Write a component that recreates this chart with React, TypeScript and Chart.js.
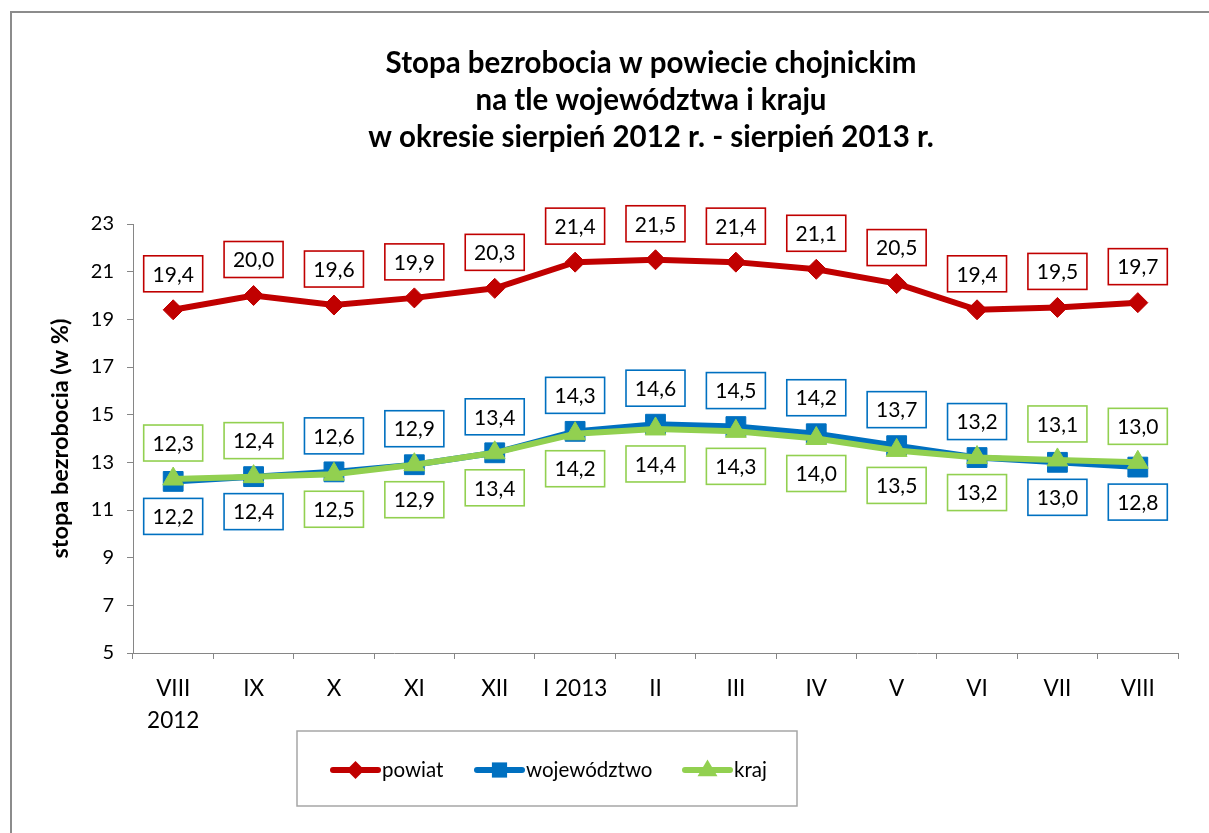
import React, { useEffect, useRef } from 'react';
import { Chart, registerables } from 'chart.js';

Chart.register(...registerables);

const categories: (string | string[])[] = [['VIII', '2012'], 'IX', 'X', 'XI', 'XII', 'I 2013', 'II', 'III', 'IV', 'V', 'VI', 'VII', 'VIII'];
const powiat = [19.4, 20.0, 19.6, 19.9, 20.3, 21.4, 21.5, 21.4, 21.1, 20.5, 19.4, 19.5, 19.7];
const wojewodztwo = [12.2, 12.4, 12.6, 12.9, 13.4, 14.3, 14.6, 14.5, 14.2, 13.7, 13.2, 13.0, 12.8];
const kraj = [12.3, 12.4, 12.5, 12.9, 13.4, 14.2, 14.4, 14.3, 14.0, 13.5, 13.2, 13.1, 13.0];
const seriesNames = ['powiat', 'województwo', 'kraj'];
const titleLines = [
  'Stopa bezrobocia w powiecie chojnickim',
  'na tle województwa i kraju',
  'w okresie sierpień 2012 r. - sierpień 2013 r.',
];
const yAxisTitle = 'stopa bezrobocia (w %)';
const yMin = 5;
const yMax = 23;
const yStep = 2;
// whether the "województwo" label sits above its point (kraj label goes the other side)
const wojLabelAbove = [false, false, true, true, true, true, true, true, true, true, true, false, false];

const RED = '#C00000';
const BLUE = '#0070C0';
const GREEN = '#92D050';
const AXIS = '#868686';
const FONT = 'Lato, "Open Sans", sans-serif';

const fmt = (v: number) => v.toFixed(1).replace('.', ',');

function drawMarker(ctx: CanvasRenderingContext2D, style: string, x: number, y: number, color: string, s: number) {
  ctx.save();
  ctx.fillStyle = color;
  ctx.beginPath();
  if (style === 'rectRot') {
    ctx.moveTo(x - s, y);
    ctx.lineTo(x, y - s);
    ctx.lineTo(x + s, y);
    ctx.lineTo(x, y + s);
  } else if (style === 'rect') {
    ctx.rect(x - s * 0.8, y - s * 0.8, s * 1.6, s * 1.6);
  } else {
    ctx.moveTo(x, y - s);
    ctx.lineTo(x + s * 0.95, y + s * 0.6);
    ctx.lineTo(x - s * 0.95, y + s * 0.6);
  }
  ctx.closePath();
  ctx.fill();
  ctx.restore();
}

const decorPlugin = {
  id: 'decor',
  beforeDraw(chart: any) {
    const ctx: CanvasRenderingContext2D = chart.ctx;
    ctx.save();
    ctx.fillStyle = '#ffffff';
    ctx.fillRect(0, 0, chart.width, chart.height);
    ctx.strokeStyle = '#8c8c8c';
    ctx.lineWidth = 2;
    ctx.beginPath();
    ctx.moveTo(11, chart.height);
    ctx.lineTo(11, 12);
    ctx.lineTo(chart.width, 12);
    ctx.stroke();
    ctx.restore();
  },
  afterDatasetsDraw(chart: any) {
    const ctx: CanvasRenderingContext2D = chart.ctx;
    const colors = [RED, BLUE, GREEN];
    const w = 59;
    const h = 36;
    ctx.save();
    ctx.font = `21px ${FONT}`;
    ctx.textAlign = 'center';
    ctx.textBaseline = 'middle';
    chart.data.datasets.forEach((ds: any, i: number) => {
      const meta = chart.getDatasetMeta(i);
      meta.data.forEach((pt: any, j: number) => {
        let above = true;
        if (i === 1) above = wojLabelAbove[j];
        if (i === 2) above = !wojLabelAbove[j];
        const cy = above ? pt.y - 36 : pt.y + 35;
        const cx = pt.x;
        ctx.fillStyle = '#ffffff';
        ctx.fillRect(cx - w / 2, cy - h / 2, w, h);
        ctx.strokeStyle = colors[i];
        ctx.lineWidth = 1.6;
        ctx.strokeRect(cx - w / 2, cy - h / 2, w, h);
        ctx.fillStyle = '#000000';
        ctx.fillText(fmt(ds.data[j]), cx, cy + 1);
      });
    });
    ctx.restore();
  },
  afterDraw(chart: any) {
    const ctx: CanvasRenderingContext2D = chart.ctx;
    const area = chart.chartArea;
    ctx.save();
    // title
    ctx.fillStyle = '#000000';
    ctx.font = `bold 29.5px ${FONT}`;
    ctx.textAlign = 'center';
    ctx.textBaseline = 'middle';
    const tcx = 651;
    titleLines.forEach((t, k) => ctx.fillText(t, tcx, 63 + k * 37));
    // y axis title
    ctx.save();
    ctx.translate(60, (area.top + area.bottom) / 2);
    ctx.rotate(-Math.PI / 2);
    ctx.font = `bold 23.5px ${FONT}`;
    ctx.fillText(yAxisTitle, 0, 0);
    ctx.restore();
    // legend
    ctx.strokeStyle = '#A6A6A6';
    ctx.lineWidth = 1.5;
    ctx.strokeRect(297, 731, 500, 75);
    const items = [
      { name: seriesNames[0], color: RED, style: 'rectRot', x: 333, s: 9 },
      { name: seriesNames[1], color: BLUE, style: 'rect', x: 477, s: 9.5 },
      { name: seriesNames[2], color: GREEN, style: 'triangle', x: 685, s: 10.5 },
    ];
    const ly = 770;
    items.forEach((it) => {
      ctx.strokeStyle = it.color;
      ctx.lineWidth = 6;
      ctx.lineCap = 'round';
      ctx.beginPath();
      ctx.moveTo(it.x, ly);
      ctx.lineTo(it.x + 45, ly);
      ctx.stroke();
      drawMarker(ctx, it.style, it.x + 22.5, ly, it.color, it.s);
      ctx.fillStyle = '#000000';
      ctx.font = `20.5px ${FONT}`;
      ctx.textAlign = 'left';
      ctx.textBaseline = 'middle';
      ctx.fillText(it.name, it.x + 49, ly);
    });
    ctx.restore();
  },
};

export default function App() {
  const ref = useRef<HTMLCanvasElement | null>(null);
  useEffect(() => {
    if (!ref.current) return;
    const chart = new Chart(ref.current, {
      type: 'line',
      data: {
        labels: categories as any,
        datasets: [
          {
            label: seriesNames[0],
            data: powiat,
            borderColor: RED,
            backgroundColor: RED,
            borderWidth: 6,
            pointStyle: 'rectRot',
            pointRadius: 10,
            pointBackgroundColor: RED,
            pointBorderColor: RED,
            pointBorderWidth: 1,
            tension: 0,
            order: 2,
          },
          {
            label: seriesNames[1],
            data: wojewodztwo,
            borderColor: BLUE,
            backgroundColor: BLUE,
            borderWidth: 6,
            pointStyle: 'rect',
            pointRadius: 14,
            pointBackgroundColor: BLUE,
            pointBorderColor: BLUE,
            pointBorderWidth: 1,
            tension: 0,
            order: 1,
          },
          {
            label: seriesNames[2],
            data: kraj,
            borderColor: GREEN,
            backgroundColor: GREEN,
            borderWidth: 6,
            pointStyle: 'triangle',
            pointRadius: 12,
            pointBackgroundColor: GREEN,
            pointBorderColor: GREEN,
            pointBorderWidth: 1,
            tension: 0,
            order: 0,
          },
        ],
      },
      options: {
        responsive: false,
        animation: false,
        devicePixelRatio: 1,
        layout: { padding: { left: 10, right: 31, top: 224, bottom: 100 } },
        plugins: {
          legend: { display: false },
          title: { display: false },
          tooltip: { enabled: false },
        },
        scales: {
          x: {
            type: 'category',
            offset: true,
            grid: { offset: true, drawOnChartArea: false, drawTicks: true, tickLength: 6, color: AXIS },
            border: { color: AXIS, width: 1 },
            ticks: {
              font: { family: FONT, size: 22.5, lineHeight: 1.42 },
              color: '#000000',
              padding: 14,
              maxRotation: 0,
              autoSkip: false,
            },
            afterFit: (s: any) => {
              s.height = 80;
            },
          },
          y: {
            min: yMin,
            max: yMax,
            ticks: { stepSize: yStep, font: { family: FONT, size: 20 }, color: '#000000', padding: 13 },
            grid: { drawOnChartArea: false, drawTicks: true, tickLength: 6, color: AXIS },
            border: { color: AXIS, width: 1 },
            afterFit: (s: any) => {
              s.width = 123;
            },
          },
        },
      },
      plugins: [decorPlugin],
    });
    return () => chart.destroy();
  }, []);
  return (
    <div style={{ position: 'absolute', left: 0, top: 0, width: 1209, height: 833 }}>
      <canvas ref={ref} width={1209} height={833} style={{ width: 1209, height: 833, display: 'block' }} />
    </div>
  );
}
